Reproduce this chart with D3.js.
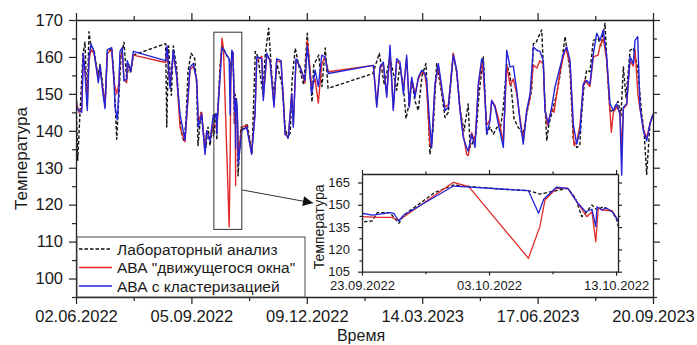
<!DOCTYPE html>
<html>
<head>
<meta charset="utf-8">
<script src="https://cdn.jsdelivr.net/npm/d3@7"></script>
<style>
  body { margin: 0; background: #fff; }
  text { font-family: "Liberation Sans", Arial, sans-serif; fill: #1a1a1a; }
</style>
</head>
<body>
<svg id="chart" width="697" height="345"></svg>
<script>
// day offsets counted from 02.06.2022, temperature values
const START_UTC = Date.UTC(2022, 5, 2);
const xTickDays = [0, 95, 190, 285, 380, 475];
const xMinorDays = [47.5, 142.5, 237.5, 332.5, 427.5];
const yTicks = [100, 110, 120, 130, 140, 150, 160, 170];
const yMinor = [95, 105, 115, 125, 135, 145, 155, 165];

const insetXTicks = [113, 123, 133];
const insetXMinor = [118, 128];
const insetYTicks = [105, 120, 135, 150, 165];
const insetYMinor = [112.5, 127.5, 142.5, 157.5];

const labData = [
  [0,150],[1.4,132],[3.3,145],[5.8,161],[7.4,164],[9.1,147],[10.7,166.8],[12.3,163],[14.8,162],[18.1,155],
  [19.8,158],[22.2,152],[23.9,147],[25.8,161],[29.4,162.5],[31.3,155],[33.5,137.7],[35.4,150],[37.0,160],[39.5,164],
  [41.7,154],[43.6,158],[45.3,156],[47.2,160.5],[73.8,163.6],[74.7,141],[76.2,163],[78.5,149.6],[80.1,163],[82.9,157],
  [84.8,147],[86.4,140],[88.9,137],[90.6,143],[92.2,156],[94.7,161],[97.7,159.6],[99.4,152],[100.4,136],[102.9,145],
  [105.4,138],[107.0,135.5],[108.7,141],[110.3,136],[112.0,140],
  [113.0,140.9],[113.2,138.6],[113.8,139.1],[114.2,144.7],[115.2,144.7],[115.9,137.5],[116.3,143.1],[118.7,158.1],
  [120.2,163.3],[124.0,160.4],[126.1,159.5],[127.0,157.2],[127.9,158.8],[129.2,161.1],[129.8,154.4],[130.3,142],
  [130.6,144.3],[131.1,149.9],[131.5,146.5],[132.0,148.7],[132.7,145.3],[133.05,139.8],
  [133.4,127.8],[135.8,141],[138.1,140.5],[140.8,142],[144.9,134.2],[147.6,161.5],[149.8,160],[151.7,155.1],[153.9,150],
  [155.6,160],[158.6,167.8],[161.4,154.2],[163.0,150],[165.5,158],[169.6,152.4],[172.3,140.5],[174.5,138],[176.4,139.6],
  [177.8,153.3],[180.5,162.4],[183.3,157.8],[187.5,152.4],[190.4,166.4],[194.3,147.8],[195.7,157.8],[199.8,160.5],
  [202.5,152],[205.2,162.4],[207.5,151.5],[244.4,155.5],[249.7,161],[253.8,152.4],[258.5,160],[264.0,151],[266.7,157.8],
  [269.5,152],[271.7,143.3],[273.6,146.4],[276.4,154],[279.1,148],[281.8,145.5],[284.9,155],[288.1,158.2],[291.4,133.6],
  [293.9,140],[296.9,158.2],[301.1,150],[303.8,143.6],[306.5,145],[310.6,160.9],[313.4,156],[316.1,146],[319.4,140],
  [322.9,147.3],[324.4,135.5],[326.8,137],[329.3,139],[331.8,150],[335.3,160],[338.1,139.1],[340.8,141],[343.6,139.1],
  [346.6,141],[349.1,140],[351.8,146.4],[354.6,158],[357.3,155],[360.6,143.3],[363.9,141],[368.2,139.1],[371.3,145],
  [375.1,151],[376.5,163.6],[378.5,163.7],[382.0,166.4],[383.4,167.3],[385.3,153],[387.5,137.3],[389.4,142],[391.9,145],
  [395.7,150],[398.5,155],[402.6,165.5],[405.0,160],[406.7,156],[409.4,137.3],[412.2,135.5],[414.7,136],[416.0,143.3],
  [418.2,152],[420.4,156.4],[423.1,156],[425.9,164.5],[429.8,165],[432.2,163],[435.5,169.1],[437.1,158],[439.6,145],
  [442.9,146],[446.2,148],[448.6,144],[450.6,157.3],[452.8,149],[456.1,161.8],[458.8,162.4],[462.4,157],[465.7,144.5],
  [467.6,140],[469.8,128.2],[472.5,142],[475,144.5]
];

const slidingData = [
  [0,149],[0.8,147],[2.5,145],[4.7,146],[6.0,160],[7.4,157],[9.3,147],[10.7,159],[12.3,162],[14.8,161],
  [18.4,154],[19.8,157],[22.2,151],[23.9,147],[25.8,161],[29.4,162],[31.3,153],[33.5,150],[35.4,153],[36.2,160],
  [38.1,161],[39.5,154],[41.7,153],[42.2,158],[45.0,156],[47.2,160.5],[73.8,158.5],[74.9,162.5],[77.4,152],[80.1,161],
  [82.9,155],[85.6,141],[89.7,137],[93.9,156.5],[96.6,157.5],[99.4,154],[100.7,142.5],[103.5,145],[106.2,134.5],
  [107.6,140],[110.3,137.5],
  [113.0,142],[114.3,141.5],[115.3,141.5],[115.9,139.8],[116.3,142],[120.2,165.1],[121.4,162.2],[126.1,114],
  [127.0,135.3],[127.4,153.2],[128.3,161.1],[129.2,161.1],[130.0,151],[130.7,142],[131.1,145.3],[131.4,125.2],
  [131.6,148],[131.9,146.5],[132.7,146],[133.05,140.9],
  [133.6,133],[136.4,141],[140.5,141.5],[144.6,134],[147.4,145],[148.8,159],[152.9,160.2],[154.2,149],[157.0,160],
  [159.7,159.5],[163.0,147],[165.2,159],[168.8,158.5],[170.7,149],[172.1,139],[174.8,138.5],[177.6,150],[178.9,141.5],
  [181.1,159],[184.4,157.5],[188.5,153],[190.4,164.5],[194.0,152],[196.8,154],[199.5,147.5],[202.3,158],[205.0,160],
  [207.7,156],[244.8,157.7],[247.6,147],[250.3,157],[253.0,158],[255.8,150],[258.5,161],[261.2,146],[264.0,159],
  [266.7,158],[269.5,151],[272.2,159.5],[274.4,147],[276.4,154],[279.1,150],[281.8,154],[284.6,156],[287.3,155],
  [288.7,151.5],[291.4,136],[292.8,136.5],[295.5,152],[298.3,157.5],[301.1,151],[303.8,146.5],[306.5,147],[310.6,161],
  [313.4,156],[316.1,146],[318.8,139],[321.6,133.6],[322.9,133.3],[325.7,139.5],[328.5,137],[331.2,152],[334.0,158.5],
  [335.3,155.5],[338.1,141.5],[340.8,143],[342.2,148.2],[344.9,146.9],[347.7,143.3],[351.8,137],[354.6,157.8],
  [357.3,152.4],[360.0,154],[362.8,150],[365.5,143.5],[368.2,137.5],[371.0,145],[373.8,149],[376.5,157.8],[379.3,157],
  [382.0,159],[384.7,158],[386.1,146],[388.0,141.5],[391.6,146],[393.5,145],[398.5,156],[401.2,160],[403.2,162.4],
  [406.7,158],[410.0,136],[412.2,137],[414.9,141.5],[417.6,152],[418.8,153.7],[423.1,152],[425.9,160],[429.8,160.5],
  [431.4,163],[434.1,165],[436.9,159],[440.7,139.6],[442.4,145],[445.1,146.5],[447.8,145],[449.2,135],[450.6,146],
  [453.3,147],[456.1,159],[458.8,157.5],[460.2,162],[462.7,149.6],[464.3,146],[467.1,140.5],[469.8,138],[472.5,142],
  [475,144]
];

const clusterData = [
  [0,150],[0.8,146],[2.5,145.5],[4.7,145],[6.0,161],[7.4,156],[9.3,145.5],[10.7,160],[12.3,163.5],[14.8,161.5],
  [18.4,153],[19.8,157.5],[22.2,150],[23.9,146],[25.8,162],[29.4,162.5],[31.3,153.5],[32.1,146.5],[34.0,143],[35.4,152],
  [36.2,161.5],[38.1,162.5],[39.5,153.5],[41.7,154],[42.2,159],[45.0,156],[47.2,161.5],[73.8,159],[74.9,163],
  [77.4,151.5],[80.1,161.8],[82.9,154.5],[85.6,144.5],[89.7,137.5],[93.9,157.3],[96.6,158.2],[99.4,153.6],[100.7,141],
  [103.5,144.5],[106.2,133.6],[107.6,140],[110.3,137.3],
  [113.0,144.3],[113.8,143.1],[114.3,143.6],[115.2,144.7],[115.5,144.2],[115.9,139.1],[116.3,143.1],[120.2,162.6],
  [126.1,159.5],[126.9,144.3],[127.3,153.7],[128.3,161.8],[129.2,161.1],[130.0,151],[130.6,145.3],[131.1,147],
  [131.4,135.3],[131.5,148.7],[131.9,146.5],[132.2,148],[132.7,145.3],[133.05,140.9],
  [133.6,131],[136.4,140],[140.5,141],[144.6,133.6],[147.4,144.5],[148.8,160],[152.9,159.5],[154.2,148.2],[157.0,161],
  [159.7,159],[163.0,146.4],[165.2,159.5],[168.8,159],[170.7,148.2],[172.1,139.1],[174.8,138.2],[177.6,150],[178.9,141],
  [181.1,159.5],[184.4,157.3],[188.5,153.6],[190.4,163],[194.0,150],[196.8,156.4],[199.5,152],[202.3,160.5],[205.0,160],
  [207.7,155.5],[244.8,157.7],[247.6,146.4],[250.3,157.3],[253.0,158.6],[255.8,149.1],[258.5,163.2],[261.2,145.5],
  [264.0,159.5],[266.7,158.6],[269.5,150],[272.2,160.5],[274.4,146.4],[276.4,154.5],[279.1,149.1],[281.8,154.5],
  [284.6,156.4],[287.3,155.5],[288.7,153.6],[291.4,141],[292.8,135.5],[295.5,152.7],[298.3,158.2],[301.1,151.8],
  [303.8,145.5],[306.5,146.4],[310.6,160.5],[313.4,156.4],[316.1,145.5],[318.8,138.2],[321.6,135.5],[322.9,134.5],
  [325.7,139.1],[328.5,135.5],[331.2,152.7],[334.0,159.5],[335.3,159],[338.1,139.1],[340.8,142.7],[342.2,148.2],
  [344.9,146.4],[347.7,141.8],[351.8,135.5],[354.6,161.8],[357.3,157.3],[360.0,157.5],[362.8,151],[365.5,142.7],
  [368.2,136.4],[371.0,145.5],[373.8,150],[376.5,162.7],[379.3,161.8],[382.0,161.5],[384.7,159],[386.1,145.5],
  [388.9,141.8],[391.6,146.4],[394.3,151.8],[398.5,157.3],[401.2,160.9],[404.0,162.7],[406.7,159],[409.4,141.8],
  [412.2,136.4],[414.9,140],[417.6,152.7],[420.4,153.6],[423.1,152.7],[425.9,160.9],[428.7,166.4],[431.4,164.5],
  [434.1,167.3],[436.9,160],[439.6,147.3],[442.4,145.5],[445.1,147.3],[447.8,144.5],[449.2,128],[450.6,146.4],
  [453.3,147.3],[456.1,160],[458.8,158.2],[460.2,164.5],[462.4,165.5],[464.3,146.4],[467.1,140],[469.8,137.3],
  [472.5,141.8],[475,144.5]
];

const seriesNames = ["Лабораторный анализ", "АВА \"движущегося окна\"", "АВА с кластеризацией"];
const seriesColors = ["#111111", "#e02a2a", "#2424d8"];
const seriesDash = ["3.5,2", null, null];
const allSeries = [labData, slidingData, clusterData];

// zoomed window (days) and its frame on the main chart
const zoomWindow = [113, 133.15];
const zoomFrame = { d0: 113.5, d1: 136.5, t0: 113.3, t1: 166.7 };

const day = d => new Date(START_UTC + d * 864e5);
const fmt = d3.utcFormat("%d.%m.%Y");

const svg = d3.select("#chart");
const m = { left: 76, right: 653, top: 20, bottom: 297 };

const x = d3.scaleUtc().domain([day(0), day(475)]).range([m.left, m.right]);
const y = d3.scaleLinear().domain([95, 170]).range([m.bottom, m.top]);

const defs = svg.append("defs");
defs.append("clipPath").attr("id", "clipMain").append("rect")
  .attr("x", m.left).attr("y", m.top).attr("width", m.right - m.left).attr("height", m.bottom - m.top);

// frame with ticks on four sides, labels only on bottom and left
function drawAxes(g, xs, ys, opt) {
  const [x0, x1] = xs.range();
  const [y0, y1] = ys.range();
  const axes = [
    [d3.axisBottom(xs), `translate(0,${y0})`, true, fmt, opt.padX],
    [d3.axisTop(xs), `translate(0,${y1})`, true, null, 0],
    [d3.axisLeft(ys), `translate(${x0},0)`, false, d3.format("d"), opt.padY],
    [d3.axisRight(ys), `translate(${x1},0)`, false, null, 0]
  ];
  axes.forEach(([ax, tr, isX, f, pad]) => {
    const major = isX ? opt.xt.map(day) : opt.yt;
    const minor = isX ? opt.xm.map(day) : opt.ym;
    const a = g.append("g").attr("transform", tr)
      .call(ax.tickValues(major).tickSize(opt.big).tickSizeOuter(0).tickPadding(pad)
        .tickFormat(f ? f : () => ""));
    a.selectAll("text").style("font-size", opt.fs + "px");
    a.select(".domain").attr("stroke", "#222").attr("stroke-width", 1.3);
    a.selectAll(".tick line").attr("stroke", "#222").attr("stroke-width", 1.2);
    const b = g.append("g").attr("transform", tr)
      .call(ax.tickValues(minor).tickSize(opt.small).tickFormat(() => ""));
    b.select(".domain").remove();
    b.selectAll(".tick line").attr("stroke", "#222").attr("stroke-width", 1.2);
  });
}

// main lines
const line = (xs, ys) => d3.line().x(d => xs(day(d[0]))).y(d => ys(d[1]));
const mainG = svg.append("g").attr("clip-path", "url(#clipMain)");
allSeries.forEach((data, i) => {
  mainG.append("path").datum(data)
    .attr("fill", "none")
    .attr("stroke", seriesColors[i])
    .attr("stroke-width", 1.4)
    .attr("stroke-linejoin", "round")
    .attr("stroke-dasharray", seriesDash[i])
    .attr("d", line(x, y));
});

drawAxes(svg.append("g"), x, y, { xt: xTickDays, xm: xMinorDays, yt: yTicks, ym: yMinor, fs: 16.5, big: 7, small: 4, padX: 6, padY: 6 });

// axis titles
svg.append("text").attr("x", 361).attr("y", 341)
  .attr("text-anchor", "middle").style("font-size", "16px").text("Время");
svg.append("text").attr("transform", `translate(27,${(m.top + m.bottom) / 2}) rotate(-90)`)
  .attr("text-anchor", "middle").style("font-size", "17px").text("Температура");

// zoom frame on main plot
const fx0 = x(day(zoomFrame.d0)), fx1 = x(day(zoomFrame.d1));
const fy0 = y(zoomFrame.t1), fy1 = y(zoomFrame.t0);
svg.append("rect").attr("x", fx0).attr("y", fy0).attr("width", fx1 - fx0).attr("height", fy1 - fy0)
  .attr("fill", "none").attr("stroke", "#333").attr("stroke-width", 1);

// legend
const lg = svg.append("g");
const lx = m.left + 1, ly = 237, lw = 228, lh = m.bottom - ly;
lg.append("rect").attr("x", lx).attr("y", ly).attr("width", lw).attr("height", lh)
  .attr("fill", "#fff").attr("stroke", "#444").attr("stroke-width", 1);
seriesNames.forEach((name, i) => {
  const yy = ly + 12 + i * 18.5;
  lg.append("line").attr("x1", lx + 2).attr("x2", lx + 35).attr("y1", yy).attr("y2", yy)
    .attr("stroke", seriesColors[i]).attr("stroke-width", 1.4).attr("stroke-dasharray", seriesDash[i]);
  lg.append("text").attr("x", lx + 40).attr("y", yy + 5.5).style("font-size", "15.5px").text(name);
});

// inset
const ib = { left: 362, right: 618, top: 174, bottom: 271.7 };
const xi = d3.scaleUtc().domain(zoomWindow.map(day)).range([ib.left, ib.right]);
const yi = d3.scaleLinear().domain([105, 170.7]).range([ib.bottom, ib.top]);
defs.append("clipPath").attr("id", "clipInset").append("rect")
  .attr("x", ib.left).attr("y", ib.top).attr("width", ib.right - ib.left).attr("height", ib.bottom - ib.top);
defs.append("marker").attr("id", "arrow").attr("viewBox", "0 0 10 10").attr("refX", 10).attr("refY", 5)
  .attr("markerWidth", 16).attr("markerHeight", 10).attr("markerUnits", "userSpaceOnUse").attr("orient", "auto")
  .append("path").attr("d", "M0,0L10,5L0,10Z").attr("fill", "#111");

svg.append("line")
  .attr("x1", fx1).attr("y1", y(124))
  .attr("x2", ib.left - 49).attr("y2", ib.top + 29)
  .attr("stroke", "#333").attr("stroke-width", 1).attr("marker-end", "url(#arrow)");

const ig = svg.append("g");
ig.append("rect").attr("x", ib.left).attr("y", ib.top).attr("width", ib.right - ib.left).attr("height", ib.bottom - ib.top)
  .attr("fill", "#fff");
const inLines = ig.append("g").attr("clip-path", "url(#clipInset)");
allSeries.forEach((data, i) => {
  inLines.append("path").datum(data.filter(d => d[0] >= zoomWindow[0] - 2 && d[0] <= zoomWindow[1] + 2))
    .attr("fill", "none")
    .attr("stroke", seriesColors[i])
    .attr("stroke-width", 1.3)
    .attr("stroke-linejoin", "round")
    .attr("stroke-dasharray", seriesDash[i])
    .attr("d", line(xi, yi));
});
drawAxes(ig, xi, yi, { xt: insetXTicks, xm: insetXMinor, yt: insetYTicks, ym: insetYMinor, fs: 13, big: 4, small: 2.5, padX: 5, padY: 8 });
ig.append("text").attr("transform", `translate(324,${(ib.top + ib.bottom) / 2 + 4}) rotate(-90)`)
  .attr("text-anchor", "middle").style("font-size", "14px").text("Температура");
</script>
</body>
</html>
